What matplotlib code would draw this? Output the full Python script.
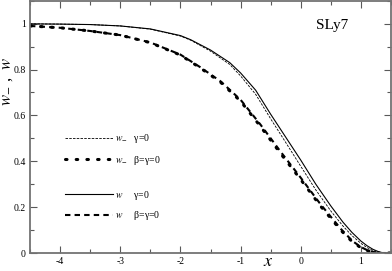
import matplotlib
matplotlib.use('Agg')
import matplotlib.pyplot as plt
from matplotlib.ticker import MultipleLocator

plt.rcParams['font.family'] = ['Liberation Serif', 'DejaVu Serif']
plt.rcParams['mathtext.fontset'] = 'stix'

# w, gamma = 0
x_w = [-4.5, -4.0, -3.5, -3.0, -2.5, -2.0, -1.83, -1.5, -1.18, -1.0, -0.75, -0.5,
       -0.25, 0.0, 0.25, 0.5, 0.7, 0.85, 1.0, 1.1, 1.2, 1.3, 1.38, 1.5]
y_w = [0.999, 0.998, 0.996, 0.99, 0.977, 0.948, 0.93, 0.885, 0.83, 0.785, 0.71, 0.605,
       0.505, 0.405, 0.3, 0.205, 0.135, 0.09, 0.052, 0.032, 0.016, 0.005, 0.0, 0.0]

# w_-, gamma = 0
x_wm = [-4.5, -4.0, -3.5, -3.0, -2.5, -2.0, -1.83, -1.5, -1.18, -1.0, -0.75, -0.5,
        -0.25, 0.0, 0.25, 0.5, 0.7, 0.85, 1.0, 1.1, 1.2, 1.3, 1.36, 1.5]
y_wm = [0.999, 0.998, 0.996, 0.99, 0.976, 0.946, 0.928, 0.88, 0.822, 0.772, 0.692, 0.585,
        0.482, 0.378, 0.275, 0.183, 0.118, 0.076, 0.042, 0.024, 0.011, 0.003, 0.0, 0.0]

# w, beta = gamma = 0
x_wb = [-4.5, -4.0, -3.5, -3.0, -2.5, -2.0, -1.67, -1.33, -1.0, -0.67, -0.33, 0.0,
        0.33, 0.67, 0.86, 1.0, 1.1, 1.2, 1.3, 1.5]
y_wb = [0.99, 0.982, 0.968, 0.95, 0.918, 0.865, 0.81, 0.748, 0.668, 0.56, 0.44, 0.328,
        0.212, 0.104, 0.052, 0.026, 0.013, 0.005, 0.0, 0.0]

# w_-, beta = gamma = 0
x_wmb = [-4.5, -4.0, -3.5, -3.0, -2.5, -2.0, -1.67, -1.33, -1.0, -0.67, -0.33, 0.0,
         0.33, 0.67, 0.86, 1.0, 1.1, 1.2, 1.28, 1.5]
y_wmb = [0.99, 0.982, 0.968, 0.95, 0.917, 0.863, 0.807, 0.744, 0.662, 0.552, 0.432, 0.32,
         0.204, 0.098, 0.048, 0.023, 0.011, 0.004, 0.0, 0.0]

fig = plt.figure(figsize=(3.92, 2.71), dpi=100)
ax = fig.add_axes([0.0765, 0.0664, 0.921, 0.931])

l1, = ax.plot(x_wm, y_wm, color='k', lw=0.6, ls=(0, (3, 1.5)))
l2, = ax.plot(x_wmb, y_wmb, color='k', lw=2.2, ls=(0, (0.5, 3.0)), dash_capstyle='round')
l3, = ax.plot(x_w, y_w, color='k', lw=0.8)
l4, = ax.plot(x_wb, y_wb, color='k', lw=1.5, ls=(0, (2.6, 2.0)))

ax.set_xlim(-4.5, 1.5)
ax.set_ylim(0, 1.1)
ax.set_xticks([-4, -3, -2, -1, 0, 1])
ax.set_xticklabels(['-4', '-3', '-2', '-1', '0', '1'])
ax.set_yticks([0, 0.2, 0.4, 0.6, 0.8, 1.0])
ax.set_yticklabels(['0', '0.2', '0.4', '0.6', '0.8', '1'])
ax.xaxis.set_minor_locator(MultipleLocator(0.5))
ax.yaxis.set_minor_locator(MultipleLocator(0.1))
ax.tick_params(which='both', direction='in', top=True, right=True, labelsize=7,
               color='0.35', width=0.8)
ax.tick_params(which='major', length=5, pad=3)
ax.tick_params(which='minor', length=3)
for s in ax.spines.values():
    s.set_color('0.45')
    s.set_linewidth(1.3)

ax.text(0.836, 0.9, 'SLy7', transform=ax.transAxes, fontsize=11, ha='center', va='center')
ax.text(0.66, -0.035, r'$x$', transform=ax.transAxes, fontsize=13, ha='center', va='center')
ax.text(-0.064, 0.68, r'$w_{-}$ ,  $w$', transform=ax.transAxes, fontsize=12,
        ha='center', va='center', rotation=90)

leg1 = ax.legend([l1, l2], [r'$w_{-}$   γ=0', r'$w_{-}$   β=γ=0'],
                 loc='upper left', bbox_to_anchor=(0.085, 0.495), frameon=False,
                 fontsize=7, handlelength=5.0, handletextpad=0.2, labelspacing=0.9,
                 borderaxespad=0)
ax.add_artist(leg1)
ax.legend([l3, l4], [r'$w$     γ=0', r'$w$     β=γ=0'],
          loc='upper left', bbox_to_anchor=(0.085, 0.27), frameon=False,
          fontsize=7, handlelength=5.0, handletextpad=0.2, labelspacing=0.75,
          borderaxespad=0)

fig.savefig('out.png', dpi=100)
